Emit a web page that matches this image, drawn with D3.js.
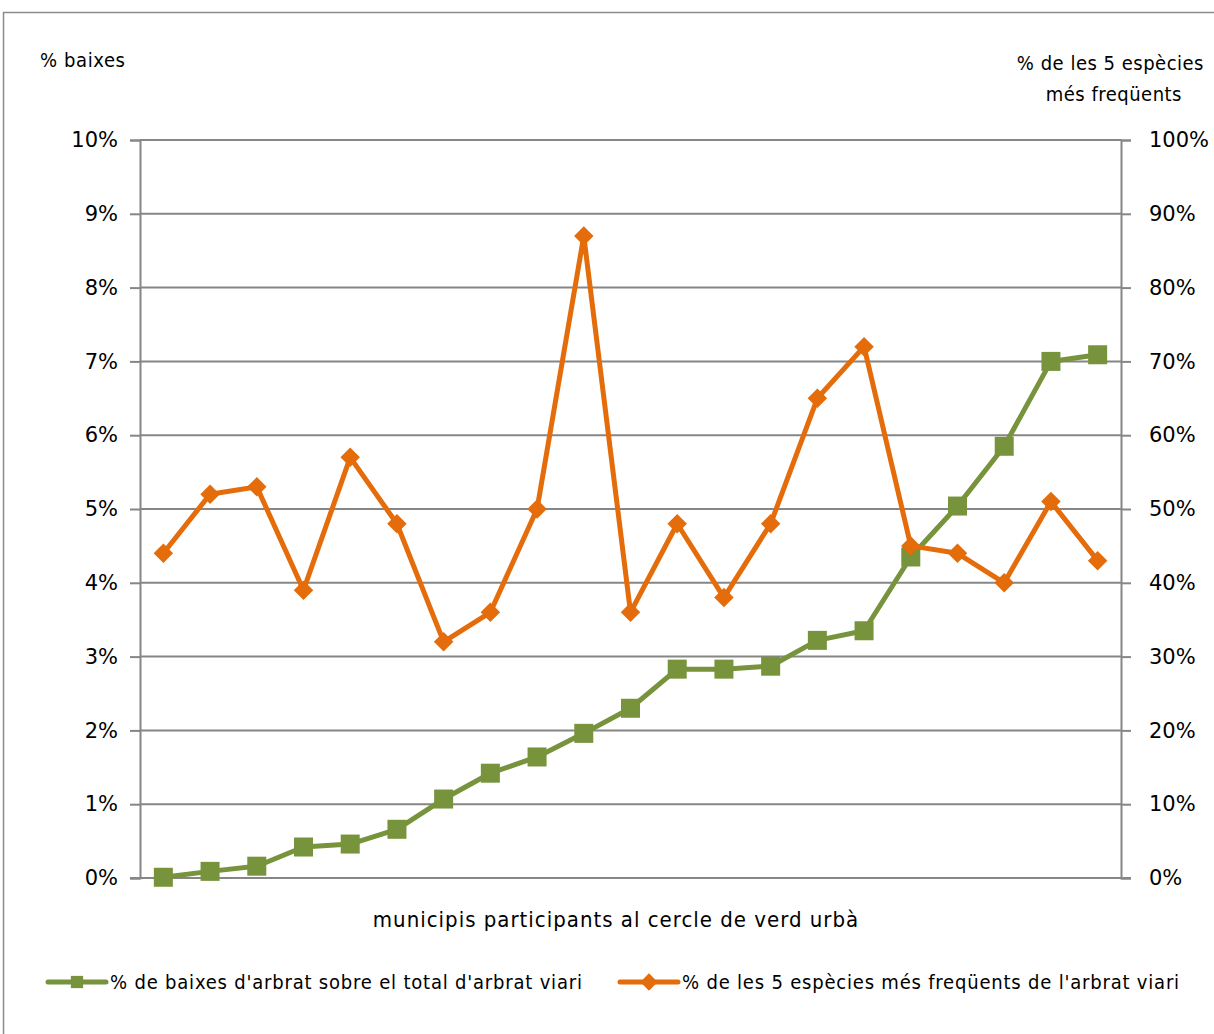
<!DOCTYPE html>
<html>
<head>
<meta charset="utf-8">
<script src="https://cdn.jsdelivr.net/npm/d3@7"></script>
<style>
  body { margin: 0; background: #fff; }
  text { font-family: "Liberation Sans Narrow", "DejaVu Sans Condensed", "Open Sans", sans-serif; fill: #000; }
  .tick text { font-family: "DejaVu Sans", sans-serif; }
</style>
</head>
<body>
<svg id="chart" width="1214" height="1034"></svg>
<script>
// municipis (no names shown on the axis)
var municipis = d3.range(1, 22);
// % de baixes d'arbrat sobre el total d'arbrat viari (left axis, %)
var baixes = [0.01, 0.09, 0.16, 0.42, 0.46, 0.66, 1.07, 1.42, 1.64, 1.96, 2.30,
              2.83, 2.83, 2.87, 3.22, 3.35, 4.35, 5.04, 5.85, 7.00, 7.09];
// % de les 5 espècies més freqüents de l'arbrat viari (right axis, %)
var especies = [44, 52, 53, 39, 57, 48, 32, 36, 50, 87, 36,
                48, 38, 48, 65, 72, 45, 44, 40, 51, 43];
var leftTicks = d3.range(0, 11);
var rightTicks = d3.range(0, 101, 10);

var svg = d3.select("#chart"),
  plotL = 140, plotR = 1121, plotT = 140, plotB = 878,
  green = "#77933C", orange = "#E46C0A", grid = "#868686";

var x = d3.scaleBand().domain(municipis).range([plotL, plotR]),
  yL = d3.scaleLinear().domain([0, 10]).range([plotB, plotT]),
  yR = d3.scaleLinear().domain([0, 100]).range([plotB, plotT]);

// outer frame
svg.append("path")
  .attr("d", "M3.5,1034 L3.5,12.5 L1214,12.5")
  .attr("fill", "none").attr("stroke", "#8c8c8c").attr("stroke-width", 1.5);

// gridlines
svg.append("g").selectAll("line").data(leftTicks.slice(1)).enter().append("line")
  .attr("x1", plotL).attr("x2", plotR)
  .attr("y1", function (d) { return yL(d); }).attr("y2", function (d) { return yL(d); })
  .attr("stroke", grid).attr("stroke-width", 2);

// left axis
var axL = svg.append("g").attr("transform", "translate(" + plotL + ",0)")
  .call(d3.axisLeft(yL).tickValues(leftTicks).tickSize(10).tickPadding(12)
    .tickFormat(function (d) { return d + "%"; }));
axL.select(".domain").attr("stroke", grid).attr("stroke-width", 2);
axL.selectAll(".tick line").attr("stroke", grid).attr("stroke-width", 2);
axL.selectAll("text").attr("font-size", 21).attr("font-family", null).attr("fill", "#000");

// right axis
var axR = svg.append("g").attr("transform", "translate(" + plotR + ",0)")
  .call(d3.axisRight(yR).tickValues(rightTicks).tickSize(10).tickPadding(18)
    .tickFormat(function (d) { return d + "%"; }));
axR.select(".domain").attr("stroke", grid).attr("stroke-width", 2);
axR.selectAll(".tick line").attr("stroke", grid).attr("stroke-width", 2);
axR.selectAll("text").attr("font-size", 21).attr("font-family", null).attr("fill", "#000");

// bottom axis line
svg.append("line").attr("x1", plotL - 10).attr("x2", plotR + 10)
  .attr("y1", plotB).attr("y2", plotB).attr("stroke", grid).attr("stroke-width", 2);

var cx = function (d, i) { return x(municipis[i]) + x.bandwidth() / 2; };

// green series
svg.append("path").datum(baixes)
  .attr("fill", "none").attr("stroke", green).attr("stroke-width", 5).attr("stroke-linejoin", "round")
  .attr("d", d3.line().x(cx).y(function (d) { return yL(d); }));
svg.append("g").selectAll("rect").data(baixes).enter().append("rect")
  .attr("x", function (d, i) { return cx(d, i) - 9.5; })
  .attr("y", function (d) { return yL(d) - 9.5; })
  .attr("width", 19).attr("height", 19).attr("fill", green);

// orange series
svg.append("path").datum(especies)
  .attr("fill", "none").attr("stroke", orange).attr("stroke-width", 5).attr("stroke-linejoin", "round")
  .attr("d", d3.line().x(cx).y(function (d) { return yR(d); }));
svg.append("g").selectAll("path").data(especies).enter().append("path")
  .attr("d", d3.symbol().type(d3.symbolSquare).size(190))
  .attr("transform", function (d, i) { return "translate(" + cx(d, i) + "," + yR(d) + ") rotate(45)"; })
  .attr("fill", orange);

// titles
svg.append("text").attr("x", 40).attr("y", 67).attr("font-size", 20).attr("letter-spacing", 0.6)
  .text("% baixes");
svg.append("text").attr("x", 1204).attr("y", 70).attr("font-size", 20).attr("letter-spacing", 0.5)
  .attr("text-anchor", "end").text("% de les 5 espècies");
svg.append("text").attr("x", 1182).attr("y", 101).attr("font-size", 20).attr("letter-spacing", 0.5)
  .attr("text-anchor", "end").text("més freqüents");
svg.append("text").attr("x", 616).attr("y", 927).attr("font-size", 22).attr("letter-spacing", 1)
  .attr("text-anchor", "middle").text("municipis participants al cercle de verd urbà");

// legend
var legend = [
  { label: "% de baixes d'arbrat sobre el total d'arbrat viari", color: green, x: 48, shape: "square" },
  { label: "% de les 5 espècies més freqüents de l'arbrat viari", color: orange, x: 620, shape: "diamond" }
];
var lg = svg.append("g").selectAll("g").data(legend).enter().append("g")
  .attr("transform", function (d) { return "translate(" + d.x + ",982)"; });
lg.append("line").attr("x1", 0).attr("x2", 58).attr("stroke", function (d) { return d.color; })
  .attr("stroke-width", 5).attr("stroke-linecap", "round");
lg.append("path")
  .attr("d", d3.symbol().type(d3.symbolSquare).size(150))
  .attr("transform", function (d) { return "translate(29,0)" + (d.shape == "square" ? "" : " rotate(45)"); })
  .attr("fill", function (d) { return d.color; });
lg.append("text").attr("x", 62).attr("y", 7).attr("font-size", 20).attr("letter-spacing", 0.8)
  .text(function (d) { return d.label; });
</script>
</body>
</html>
